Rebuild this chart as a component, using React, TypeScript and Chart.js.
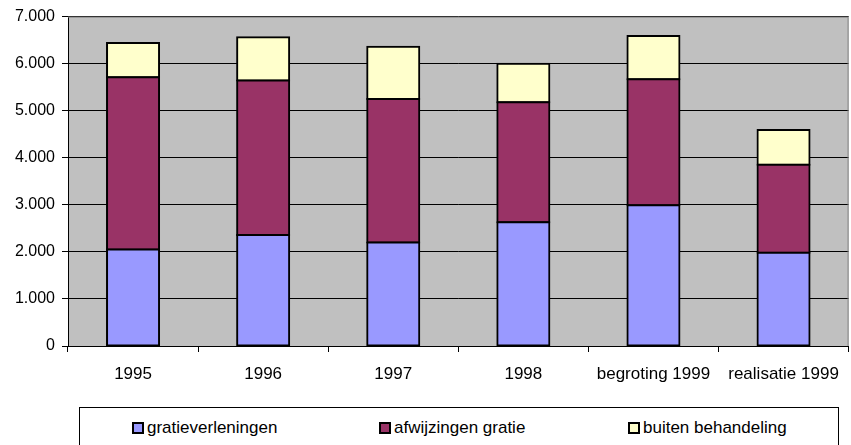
import React, { useEffect, useRef } from 'react';
import { Chart, registerables } from 'chart.js';

Chart.register(...registerables);

const categories = ['1995', '1996', '1997', '1998', 'begroting 1999', 'realisatie 1999'];
const gratieverleningen = [2050, 2360, 2200, 2630, 2990, 1980];
const afwijzingenGratie = [3660, 3280, 3050, 2550, 2680, 1870];
const buitenBehandeling = [730, 920, 1110, 820, 920, 740];
const seriesNames = ['gratieverleningen', 'afwijzingen gratie', 'buiten behandeling'];
const seriesColors = ['#9999FF', '#993366', '#FFFFCC'];
const yMin = 0;
const yMax = 7000;
const yStep = 1000;

const FONT = '"Liberation Sans", Arial, sans-serif';

const fmt = (v: number) => {
  if (v === 0) return '0';
  const s = String(Math.round(v));
  return s.replace(/\B(?=(\d{3})+(?!\d))/g, '.');
};

const plotFrame = {
  id: 'plotFrame',
  beforeDraw(chart: any) {
    const { ctx, chartArea: a } = chart;
    ctx.save();
    ctx.fillStyle = '#C0C0C0';
    ctx.fillRect(a.left, a.top, a.right - a.left, a.bottom - a.top);
    ctx.restore();
  },
  afterDraw(chart: any) {
    const { ctx, chartArea: a } = chart;
    ctx.save();
    ctx.strokeStyle = '#808080';
    ctx.lineWidth = 1;
    ctx.beginPath();
    ctx.moveTo(a.left, a.top + 0.5);
    ctx.lineTo(a.right - 0.5, a.top + 0.5);
    ctx.lineTo(a.right - 0.5, a.bottom);
    ctx.stroke();
    ctx.restore();
  },
};

export default function App() {
  const ref = useRef<HTMLCanvasElement | null>(null);

  useEffect(() => {
    if (!ref.current) return;
    const data = [gratieverleningen, afwijzingenGratie, buitenBehandeling];
    const chart = new Chart(ref.current, {
      type: 'bar',
      data: {
        labels: categories,
        datasets: data.map((d, i) => ({
          label: seriesNames[i],
          data: d,
          backgroundColor: seriesColors[i],
          borderColor: '#000000',
          borderWidth: 2,
          borderSkipped: false,
          inflateAmount: 1,
          categoryPercentage: 1,
          barPercentage: 0.4,
        })),
      },
      options: {
        responsive: false,
        animation: false,
        layout: { padding: { top: 16, right: 2, left: 0, bottom: 0 } },
        plugins: {
          legend: { display: false },
          tooltip: { enabled: false },
        },
        scales: {
          x: {
            stacked: true,
            afterFit: (s: any) => { s.height = 54; },
            grid: {
              offset: true,
              drawOnChartArea: false,
              drawTicks: true,
              tickLength: 6,
              color: '#000000',
            },
            border: { color: '#000000', width: 1 },
            ticks: {
              color: '#000000',
              font: { family: FONT, size: 17 },
              padding: 12,
              autoSkip: false,
              maxRotation: 0,
            },
          },
          y: {
            stacked: true,
            min: yMin,
            max: yMax,
            afterFit: (s: any) => { s.width = 68; },
            grid: {
              color: '#000000',
              lineWidth: 1,
              drawTicks: true,
              tickLength: 6,
            },
            border: { color: '#000000', width: 1 },
            ticks: {
              stepSize: yStep,
              color: '#000000',
              font: { family: FONT, size: 16 },
              padding: 7,
              callback: (v: any) => fmt(Number(v)),
            },
          },
        },
      },
      plugins: [plotFrame],
    });
    return () => chart.destroy();
  }, []);

  const legendX = [132, 379, 628];

  return (
    <div style={{ position: 'absolute', left: 0, top: 0, width: 851, height: 445, overflow: 'hidden', background: '#fff' }}>
      <canvas ref={ref} width={851} height={400} style={{ position: 'absolute', left: 0, top: 0, width: 851, height: 400 }} />
      <div
        style={{
          position: 'absolute',
          left: 79,
          top: 407,
          width: 760,
          height: 60,
          border: '1px solid #000',
          boxSizing: 'border-box',
        }}
      />
      {seriesNames.map((n, i) => (
        <div
          key={n}
          style={{
            position: 'absolute',
            left: legendX[i],
            top: 417,
            height: 22,
            display: 'flex',
            alignItems: 'center',
            fontFamily: FONT,
            fontSize: 17,
            color: '#000',
            whiteSpace: 'nowrap',
          }}
        >
          <span
            style={{
              display: 'inline-block',
              width: 12,
              height: 12,
              boxSizing: 'border-box',
              border: '2px solid #000',
              background: seriesColors[i],
              marginRight: 3,
            }}
          />
          <span>{n}</span>
        </div>
      ))}
    </div>
  );
}
